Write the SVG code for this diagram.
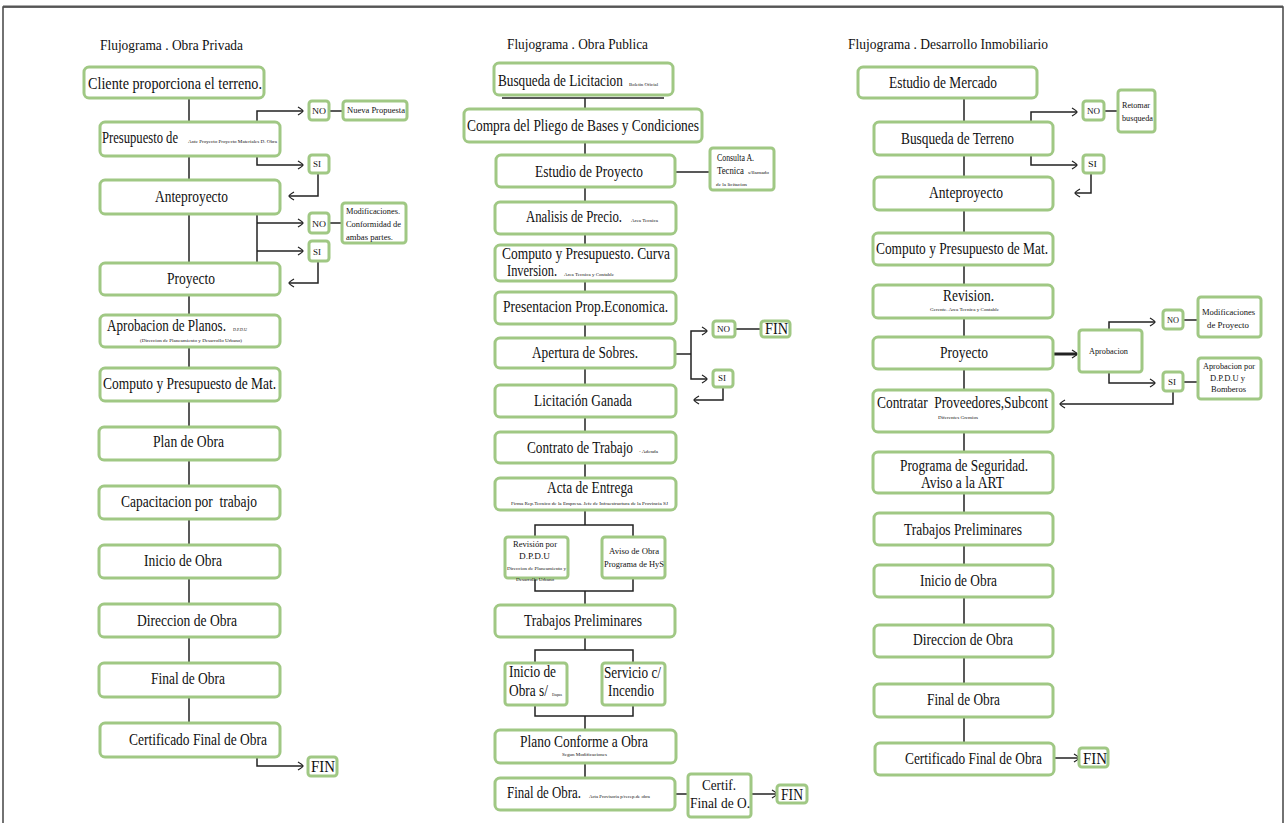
<svg xmlns="http://www.w3.org/2000/svg" width="1287" height="823" viewBox="0 0 1287 823">
<defs>
<marker id="ar" markerWidth="8" markerHeight="10" refX="6" refY="5" orient="auto" markerUnits="userSpaceOnUse"><path d="M1,1 Q6,4 6,5 Q6,6 1,9" fill="none" stroke="#222" stroke-width="1.3"/></marker>
<style>
.n{fill:#fff;stroke:#a0c884;stroke-width:3}
.t{font-family:"Liberation Serif","Times New Roman",serif;fill:#111}
.b{font-size:16px}
.s{font-size:9px}
.x{font-size:4px}
.h{font-size:14px}
.c{fill:none;stroke:#222;stroke-width:1.5}
.a{marker-end:url(#ar)}
</style>
</defs>
<rect width="1287" height="823" fill="#fff"/>
<path d="M3,823 V7 H1283 V823" fill="none" stroke="#444" stroke-width="1.5"/>
<line x1="3" y1="6.5" x2="1283" y2="6.5" stroke="#555" stroke-width="2"/>

<g id="connectors">
<path class="c" d="M189,98 V723"/>
<path class="c a" d="M257,138 V111 H303"/>
<path class="c a" d="M257,138 V165 H303"/>
<path class="c" d="M329,111 H343"/>
<path class="c a" d="M318,173 V196 H289"/>
<path class="c" d="M257,214 V262"/>
<path class="c a" d="M257,223 H303"/>
<path class="c a" d="M257,251 H303"/>
<path class="c" d="M329,223 H342"/>
<path class="c a" d="M318,261 V283 H289"/>
<path class="c a" d="M257,757 V766 H303"/>

<path class="c" d="M502,98 H664"/>
<path class="c" d="M585,98 V525"/>
<path class="c" d="M675,172 H710"/>
<path class="c" d="M675,354 H691"/>
<path class="c a" d="M691,354 V331 H707"/>
<path class="c a" d="M691,354 V379 H707"/>
<path class="c" d="M735,329 H761"/>
<path class="c a" d="M723,387 V400 H694"/>
<path class="c" d="M535,537 V525 H633 V537"/>
<path class="c" d="M535,578 V591 H633 V578 M585,591 V605"/>
<path class="c" d="M585,637 V650 M535,663 V650 H633 V663"/>
<path class="c" d="M535,705 V716 H633 V705 M585,716 V778"/>
<path class="c" d="M675,794 H688"/>
<path class="c a" d="M751,794 H777"/>

<path class="c" d="M964,98 V743"/>
<path class="c a" d="M1031,139 V112 H1077"/>
<path class="c a" d="M1031,139 V165 H1077"/>
<path class="c" d="M1104,111 H1118"/>
<path class="c a" d="M1091,173 V193 H1075"/>
<path class="c a" d="M1053,354 H1077" style="stroke-width:3"/>
<path class="c a" d="M1109,330 V322 H1155"/>
<path class="c a" d="M1109,372 V383 H1155"/>
<path class="c" d="M1183,320 H1198"/>
<path class="c" d="M1183,382 H1198"/>
<path class="c a" d="M1173,391 V404 H1060"/>
<path class="c a" d="M1054,758 H1079"/>
</g>

<g id="titles">
<text class="t h" x="100" y="50" textLength="143" lengthAdjust="spacingAndGlyphs">Flujograma . Obra Privada</text>
<text class="t h" x="507" y="49" textLength="141" lengthAdjust="spacingAndGlyphs">Flujograma . Obra Publica</text>
<text class="t h" x="848" y="49" textLength="200" lengthAdjust="spacingAndGlyphs">Flujograma . Desarrollo Inmobiliario</text>
</g>

<!-- Column 1 -->
<g id="p1"><rect class="n" x="84" y="67" width="180" height="31" rx="5"/><text class="t b" x="88" y="89" textLength="174" lengthAdjust="spacingAndGlyphs">Cliente proporciona el terreno.</text></g>
<g id="p2"><rect class="n" x="100" y="122" width="180" height="34" rx="5"/><text class="t b" transform="translate(102,143) scale(0.8,1)" x="0" y="0" textLength="95" lengthAdjust="spacingAndGlyphs">Presupuesto de</text><text class="t x" x="188" y="143" textLength="89" lengthAdjust="spacingAndGlyphs">Ante Proyecto Proyecto Materiales D. Obra</text></g>
<g id="p3"><rect class="n" x="100" y="180" width="180" height="34" rx="5"/><text class="t b" x="155" y="202" textLength="73" lengthAdjust="spacingAndGlyphs">Anteproyecto</text></g>
<g id="p-no1"><rect class="n" x="309" y="101" width="20" height="19" rx="3"/><text class="t s" x="312" y="114" textLength="14" lengthAdjust="spacingAndGlyphs">NO</text></g>
<g id="p-nueva"><rect class="n" x="343" y="101" width="64" height="19" rx="3"/><text class="t s" x="347" y="113" textLength="58" lengthAdjust="spacingAndGlyphs">Nueva Propuesta</text></g>
<g id="p-si1"><rect class="n" x="309" y="155" width="20" height="18" rx="3"/><text class="t s" x="313" y="167" textLength="8" lengthAdjust="spacingAndGlyphs">SI</text></g>
<g id="p-no2"><rect class="n" x="309" y="213" width="20" height="20" rx="3"/><text class="t s" x="312" y="227" textLength="14" lengthAdjust="spacingAndGlyphs">NO</text></g>
<g id="p-modif"><rect class="n" x="342" y="203" width="64" height="40" rx="3"/><text class="t s" x="346" y="214" textLength="54" lengthAdjust="spacingAndGlyphs">Modificaciones.</text><text class="t s" x="346" y="227" textLength="55" lengthAdjust="spacingAndGlyphs">Conformidad de</text><text class="t s" x="346" y="240" textLength="47" lengthAdjust="spacingAndGlyphs">ambas partes.</text></g>
<g id="p-si2"><rect class="n" x="309" y="241" width="20" height="20" rx="3"/><text class="t s" x="313" y="255" textLength="8" lengthAdjust="spacingAndGlyphs">SI</text></g>
<g id="p4"><rect class="n" x="100" y="263" width="180" height="32" rx="5"/><text class="t b" x="167" y="284" textLength="48" lengthAdjust="spacingAndGlyphs">Proyecto</text></g>
<g id="p5"><rect class="n" x="100" y="315" width="180" height="32" rx="5"/><text class="t b" transform="translate(107,331) scale(0.8,1)" x="0" y="0" textLength="148.75" lengthAdjust="spacingAndGlyphs">Aprobacion de Planos.</text><text class="t x" x="233" y="331" textLength="14" lengthAdjust="spacingAndGlyphs">D.P.D.U</text><text class="t x" x="140" y="342" textLength="102" lengthAdjust="spacingAndGlyphs">(Direccion de Planeamiento y Desarrollo Urbano)</text></g>
<g id="p6"><rect class="n" x="100" y="368" width="180" height="33" rx="5"/><text class="t b" x="103" y="389" textLength="173" lengthAdjust="spacingAndGlyphs">Computo y Presupuesto de Mat.</text></g>
<g id="p7"><rect class="n" x="99" y="427" width="181" height="33" rx="5"/><text class="t b" x="153" y="447" textLength="71" lengthAdjust="spacingAndGlyphs">Plan de Obra</text></g>
<g id="p8"><rect class="n" x="99" y="486" width="181" height="33" rx="5"/><text class="t b" x="121" y="507" textLength="136" lengthAdjust="spacingAndGlyphs">Capacitacion por&#160; trabajo</text></g>
<g id="p9"><rect class="n" x="99" y="545" width="181" height="33" rx="5"/><text class="t b" x="144" y="566" textLength="78" lengthAdjust="spacingAndGlyphs">Inicio de Obra</text></g>
<g id="p10"><rect class="n" x="99" y="604" width="181" height="33" rx="5"/><text class="t b" x="137" y="626" textLength="100" lengthAdjust="spacingAndGlyphs">Direccion de Obra</text></g>
<g id="p11"><rect class="n" x="99" y="663" width="181" height="34" rx="5"/><text class="t b" x="151" y="684" textLength="74" lengthAdjust="spacingAndGlyphs">Final de Obra</text></g>
<g id="p12"><rect class="n" x="100" y="723" width="180" height="34" rx="5"/><text class="t b" x="129" y="745" textLength="138" lengthAdjust="spacingAndGlyphs">Certificado Final de Obra</text></g>
<g id="p-fin"><rect class="n" x="308" y="757" width="29" height="19" rx="3"/><text class="t b" x="311" y="772" textLength="24" lengthAdjust="spacingAndGlyphs">FIN</text></g>

<!-- Column 2 -->
<g id="o1"><rect class="n" x="494" y="63" width="179" height="32" rx="5"/><text class="t b" transform="translate(498,86) scale(0.8,1)" x="0" y="0" textLength="156" lengthAdjust="spacingAndGlyphs">Busqueda de Licitacion</text><text class="t x" x="629" y="86" textLength="29" lengthAdjust="spacingAndGlyphs">Boletin Oficial</text></g>
<g id="o2"><rect class="n" x="464" y="109" width="238" height="33" rx="5"/><text class="t b" x="467" y="131" textLength="232" lengthAdjust="spacingAndGlyphs">Compra del Pliego de Bases y Condiciones</text></g>
<g id="o3"><rect class="n" x="496" y="155" width="179" height="32" rx="5"/><text class="t b" x="535" y="177" textLength="108" lengthAdjust="spacingAndGlyphs">Estudio de Proyecto</text></g>
<g id="o-consulta"><rect class="n" x="710" y="148" width="64" height="42" rx="3"/><text class="t" style="font-size:10px" x="717" y="161" textLength="37" lengthAdjust="spacingAndGlyphs">Consulta A.</text><text class="t" style="font-size:10px" transform="translate(717,174) scale(0.8,1)" x="0" y="0" textLength="33.75" lengthAdjust="spacingAndGlyphs">Tecnica</text><text class="t x" x="748" y="174" textLength="21" lengthAdjust="spacingAndGlyphs">s/llamado</text><text class="t x" x="716" y="186" textLength="31" lengthAdjust="spacingAndGlyphs">de la licitacion</text></g>
<g id="o4"><rect class="n" x="495" y="202" width="181" height="32" rx="5"/><text class="t b" transform="translate(526,222) scale(0.8,1)" x="0" y="0" textLength="120" lengthAdjust="spacingAndGlyphs">Analisis de Precio.</text><text class="t x" x="631" y="222" textLength="27" lengthAdjust="spacingAndGlyphs">Area Tecnica</text></g>
<g id="o5"><rect class="n" x="495" y="245" width="181" height="36" rx="5"/><text class="t b" x="502" y="259" textLength="168" lengthAdjust="spacingAndGlyphs">Computo y Presupuesto. Curva</text><text class="t b" transform="translate(507,276) scale(0.8,1)" x="0" y="0" textLength="62.5" lengthAdjust="spacingAndGlyphs">Inversion.</text><text class="t x" x="564" y="276" textLength="50" lengthAdjust="spacingAndGlyphs">Area Tecnica y Contable</text></g>
<g id="o6"><rect class="n" x="495" y="292" width="181" height="32" rx="5"/><text class="t b" x="503" y="312" textLength="165" lengthAdjust="spacingAndGlyphs">Presentacion Prop.Economica.</text></g>
<g id="o7"><rect class="n" x="495" y="338" width="180" height="30" rx="5"/><text class="t b" x="532" y="358" textLength="106" lengthAdjust="spacingAndGlyphs">Apertura de Sobres.</text></g>
<g id="o-no"><rect class="n" x="713" y="321" width="22" height="16" rx="3"/><text class="t" style="font-size:8px" x="717" y="332" textLength="13" lengthAdjust="spacingAndGlyphs">NO</text></g>
<g id="o-fin1"><rect class="n" x="761" y="321" width="29" height="16" rx="3"/><text class="t b" x="765" y="334" textLength="23" lengthAdjust="spacingAndGlyphs">FIN</text></g>
<g id="o-si"><rect class="n" x="713" y="370" width="20" height="17" rx="3"/><text class="t" style="font-size:8px" x="718" y="381" textLength="8" lengthAdjust="spacingAndGlyphs">SI</text></g>
<g id="o8"><rect class="n" x="495" y="385" width="181" height="32" rx="5"/><text class="t b" x="534" y="406" textLength="98" lengthAdjust="spacingAndGlyphs">Licitación Ganada</text></g>
<g id="o9"><rect class="n" x="495" y="432" width="181" height="31" rx="5"/><text class="t b" transform="translate(527,453) scale(0.8,1)" x="0" y="0" textLength="132.5" lengthAdjust="spacingAndGlyphs">Contrato de Trabajo</text><text class="t x" x="639" y="453" textLength="19" lengthAdjust="spacingAndGlyphs">- Adenda</text></g>
<g id="o10"><rect class="n" x="495" y="478" width="181" height="32" rx="5"/><text class="t b" x="547" y="493" textLength="86" lengthAdjust="spacingAndGlyphs">Acta de Entrega</text><text class="t x" x="511" y="505" textLength="157" lengthAdjust="spacingAndGlyphs">Firma Rep.Tecnico de la Empresa. Jefe de Infraestructura de la Provincia SJ</text></g>
<g id="o-rev"><rect class="n" x="505" y="537" width="63" height="41" rx="3"/><text class="t s" x="513" y="547" textLength="44" lengthAdjust="spacingAndGlyphs">Revisión por</text><text class="t s" x="519" y="559" textLength="31" lengthAdjust="spacingAndGlyphs">D.P.D.U</text><text class="t x" x="507" y="570" textLength="59" lengthAdjust="spacingAndGlyphs">Direccion de Planeamiento y</text><text class="t x" x="516" y="581" textLength="38" lengthAdjust="spacingAndGlyphs">Desarrollo Urbano</text></g>
<g id="o-aviso"><rect class="n" x="602" y="537" width="63" height="41" rx="3"/><text class="t s" x="609" y="554" textLength="50" lengthAdjust="spacingAndGlyphs">Aviso de Obra</text><text class="t s" x="604" y="567" textLength="60" lengthAdjust="spacingAndGlyphs">Programa de HyS</text></g>
<g id="o11"><rect class="n" x="495" y="605" width="180" height="32" rx="5"/><text class="t b" x="524" y="626" textLength="118" lengthAdjust="spacingAndGlyphs">Trabajos Preliminares</text></g>
<g id="o-inicio"><rect class="n" x="505" y="663" width="62" height="42" rx="3"/><text class="t b" x="509" y="677" textLength="47" lengthAdjust="spacingAndGlyphs">Inicio de</text><text class="t b" transform="translate(509,696) scale(0.8,1)" x="0" y="0" textLength="48.75" lengthAdjust="spacingAndGlyphs">Obra s/</text><text class="t x" x="552" y="696" textLength="10" lengthAdjust="spacingAndGlyphs">Etapas</text></g>
<g id="o-servicio"><rect class="n" x="602" y="663" width="63" height="42" rx="3"/><text class="t b" x="604" y="678" textLength="57" lengthAdjust="spacingAndGlyphs">Servicio c/</text><text class="t b" x="608" y="696" textLength="46" lengthAdjust="spacingAndGlyphs">Incendio</text></g>
<g id="o12"><rect class="n" x="495" y="730" width="181" height="33" rx="5"/><text class="t b" x="520" y="747" textLength="128" lengthAdjust="spacingAndGlyphs">Plano Conforme a Obra</text><text class="t x" x="562" y="756" textLength="45" lengthAdjust="spacingAndGlyphs">Segun Modificaciones</text></g>
<g id="o13"><rect class="n" x="495" y="778" width="180" height="32" rx="5"/><text class="t b" transform="translate(507,798) scale(0.8,1)" x="0" y="0" textLength="92.5" lengthAdjust="spacingAndGlyphs">Final de Obra.</text><text class="t x" x="589" y="798" textLength="61" lengthAdjust="spacingAndGlyphs">Acta Provisoria p/recep.de obra</text></g>
<g id="o-certif"><rect class="n" x="688" y="774" width="63" height="43" rx="3"/><text class="t" style="font-size:15px" x="702" y="790" textLength="34" lengthAdjust="spacingAndGlyphs">Certif.</text><text class="t" style="font-size:15px" x="690" y="808" textLength="60" lengthAdjust="spacingAndGlyphs">Final de O.</text></g>
<g id="o-fin2"><rect class="n" x="777" y="785" width="30" height="18" rx="3"/><text class="t b" x="781" y="800" textLength="22" lengthAdjust="spacingAndGlyphs">FIN</text></g>

<!-- Column 3 -->
<g id="d1"><rect class="n" x="858" y="67" width="179" height="31" rx="5"/><text class="t b" x="889" y="88" textLength="108" lengthAdjust="spacingAndGlyphs">Estudio de Mercado</text></g>
<g id="d2"><rect class="n" x="874" y="122" width="179" height="33" rx="5"/><text class="t b" x="901" y="144" textLength="113" lengthAdjust="spacingAndGlyphs">Busqueda de Terreno</text></g>
<g id="d-no1"><rect class="n" x="1083" y="101" width="21" height="19" rx="3"/><text class="t" style="font-size:8px" x="1087" y="114" textLength="13" lengthAdjust="spacingAndGlyphs">NO</text></g>
<g id="d-retomar"><rect class="n" x="1118" y="90" width="37" height="42" rx="3"/><text class="t" style="font-size:8px" x="1122" y="108" textLength="28" lengthAdjust="spacingAndGlyphs">Retomar</text><text class="t" style="font-size:8px" x="1122" y="121" textLength="31" lengthAdjust="spacingAndGlyphs">busqueda</text></g>
<g id="d-si1"><rect class="n" x="1083" y="155" width="21" height="18" rx="3"/><text class="t" style="font-size:8px" x="1088" y="167" textLength="9" lengthAdjust="spacingAndGlyphs">SI</text></g>
<g id="d3"><rect class="n" x="874" y="177" width="179" height="33" rx="5"/><text class="t b" x="929" y="198" textLength="74" lengthAdjust="spacingAndGlyphs">Anteproyecto</text></g>
<g id="d4"><rect class="n" x="873" y="233" width="180" height="32" rx="5"/><text class="t b" x="876" y="254" textLength="172" lengthAdjust="spacingAndGlyphs">Computo y Presupuesto de Mat.</text></g>
<g id="d5"><rect class="n" x="873" y="285" width="180" height="33" rx="5"/><text class="t b" x="943" y="301" textLength="51" lengthAdjust="spacingAndGlyphs">Revision.</text><text class="t x" x="930" y="311" textLength="69" lengthAdjust="spacingAndGlyphs">Gerente. Area Tecnica y Contable</text></g>
<g id="d6"><rect class="n" x="873" y="337" width="180" height="32" rx="5"/><text class="t b" x="940" y="358" textLength="48" lengthAdjust="spacingAndGlyphs">Proyecto</text></g>
<g id="d-aprob"><rect class="n" x="1079" y="330" width="63" height="42" rx="3"/><text class="t s" x="1089" y="354" textLength="39" lengthAdjust="spacingAndGlyphs">Aprobacion</text></g>
<g id="d-no2"><rect class="n" x="1163" y="310" width="20" height="19" rx="3"/><text class="t" style="font-size:8px" x="1167" y="323" textLength="12" lengthAdjust="spacingAndGlyphs">NO</text></g>
<g id="d-modif"><rect class="n" x="1198" y="297" width="63" height="40" rx="3"/><text class="t s" x="1202" y="315" textLength="53" lengthAdjust="spacingAndGlyphs">Modificaciones</text><text class="t s" x="1207" y="328" textLength="42" lengthAdjust="spacingAndGlyphs">de Proyecto</text></g>
<g id="d-si2"><rect class="n" x="1163" y="372" width="20" height="19" rx="3"/><text class="t" style="font-size:8px" x="1168" y="385" textLength="8" lengthAdjust="spacingAndGlyphs">SI</text></g>
<g id="d-aprobpor"><rect class="n" x="1198" y="358" width="63" height="41" rx="3"/><text class="t s" x="1203" y="369" textLength="52" lengthAdjust="spacingAndGlyphs">Aprobacion por</text><text class="t s" x="1210" y="381" textLength="35" lengthAdjust="spacingAndGlyphs">D.P.D.U y</text><text class="t s" x="1211" y="392" textLength="35" lengthAdjust="spacingAndGlyphs">Bomberos</text></g>
<g id="d7"><rect class="n" x="873" y="390" width="180" height="42" rx="5"/><text class="t b" x="877" y="408" textLength="171" lengthAdjust="spacingAndGlyphs">Contratar&#160; Proveedores,Subcont</text><text class="t x" x="938" y="419" textLength="40" lengthAdjust="spacingAndGlyphs">Diferentes Gremios</text></g>
<g id="d8"><rect class="n" x="873" y="452" width="180" height="41" rx="5"/><text class="t b" x="900" y="471" textLength="128" lengthAdjust="spacingAndGlyphs">Programa de Seguridad.</text><text class="t b" x="921" y="488" textLength="83" lengthAdjust="spacingAndGlyphs">Aviso a la ART</text></g>
<g id="d9"><rect class="n" x="874" y="513" width="179" height="32" rx="5"/><text class="t b" x="904" y="535" textLength="118" lengthAdjust="spacingAndGlyphs">Trabajos Preliminares</text></g>
<g id="d10"><rect class="n" x="874" y="565" width="179" height="32" rx="5"/><text class="t b" x="920" y="586" textLength="77" lengthAdjust="spacingAndGlyphs">Inicio de Obra</text></g>
<g id="d11"><rect class="n" x="874" y="625" width="179" height="32" rx="5"/><text class="t b" x="913" y="645" textLength="100" lengthAdjust="spacingAndGlyphs">Direccion de Obra</text></g>
<g id="d12"><rect class="n" x="874" y="684" width="179" height="33" rx="5"/><text class="t b" x="927" y="705" textLength="73" lengthAdjust="spacingAndGlyphs">Final de Obra</text></g>
<g id="d13"><rect class="n" x="875" y="743" width="179" height="32" rx="5"/><text class="t b" x="905" y="764" textLength="137" lengthAdjust="spacingAndGlyphs">Certificado Final de Obra</text></g>
<g id="d-fin"><rect class="n" x="1079" y="748" width="29" height="19" rx="3"/><text class="t b" x="1083" y="764" textLength="24" lengthAdjust="spacingAndGlyphs">FIN</text></g>
</svg>
